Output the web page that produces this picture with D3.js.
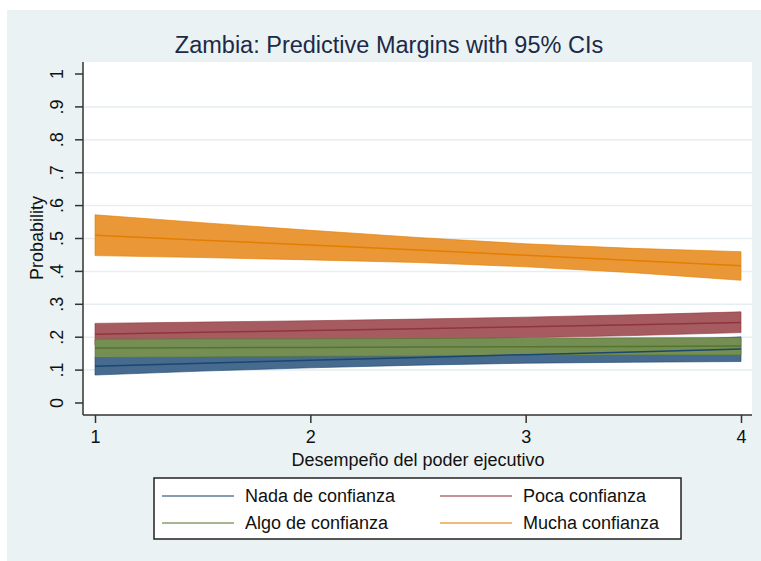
<!DOCTYPE html>
<html>
<head>
<meta charset="utf-8">
<script src="https://cdn.jsdelivr.net/npm/d3@7"></script>
<style>
body{margin:0;background:#fff}
text{font-family:"Liberation Sans",Arial,sans-serif}
</style>
</head>
<body>
<div id="graph"></div>
<script>
"use strict"
// x values of the margins
var xs=[1,1.5,2,2.5,3,3.5,4]
var xTicks=[1,2,3,4]
var yTicks=[0,.1,.2,.3,.4,.5,.6,.7,.8,.9,1]
var yTickLabels=["0",".1",".2",".3",".4",".5",".6",".7",".8",".9","1"]

// Nada de confianza
var nadaLo=[0.085,0.097,0.107,0.115,0.121,0.124,0.126]
var nadaMid=[0.112,0.121,0.130,0.138,0.147,0.155,0.164]
var nadaHi=[0.140,0.146,0.153,0.162,0.172,0.185,0.201]
// Poca confianza
var pocaLo=[0.176,0.184,0.190,0.194,0.198,0.205,0.214]
var pocaMid=[0.209,0.215,0.220,0.226,0.232,0.238,0.245]
var pocaHi=[0.242,0.246,0.250,0.255,0.261,0.268,0.277]
// Algo de confianza
var algoLo=[0.138,0.140,0.142,0.143,0.145,0.146,0.146]
var algoMid=[0.167,0.168,0.169,0.170,0.171,0.172,0.173]
var algoHi=[0.194,0.195,0.195,0.196,0.197,0.198,0.199]
// Mucha confianza
var muchaLo=[0.448,0.442,0.435,0.427,0.414,0.396,0.373]
var muchaMid=[0.510,0.495,0.480,0.465,0.449,0.433,0.417]
var muchaHi=[0.572,0.548,0.525,0.503,0.484,0.470,0.460]

var seriesNames=["Nada de confianza","Poca confianza","Algo de confianza","Mucha confianza"]
var lineColors=["#1a476f","#90353b","#55752f","#e37e00"]
var fillColors=["#476a8f","#a65b60","#748e53","#ea9737"]

var series=[
  {lo:nadaLo,mid:nadaMid,hi:nadaHi},
  {lo:pocaLo,mid:pocaMid,hi:pocaHi},
  {lo:algoLo,mid:algoMid,hi:algoHi},
  {lo:muchaLo,mid:muchaMid,hi:muchaHi}
]

var svg=d3.select('#graph').append('svg').attr('width',761).attr('height',561)
// outer graph region
svg.append('rect').attr('x',7).attr('y',10).attr('width',754).attr('height',551).attr('fill','#eaf2f3')
// plot region
svg.append('rect').attr('x',83).attr('y',62).attr('width',669).attr('height',353).attr('fill','#fff')

var x=d3.scaleLinear().domain([1,4]).range([95,741])
var y=d3.scaleLinear().domain([0,1]).range([403,74])

// grid lines
svg.append('g').selectAll('line').data(yTicks.slice(1,-1)).join('line')
  .attr('x1',84).attr('x2',752).attr('y1',d=>y(d)).attr('y2',d=>y(d))
  .attr('stroke','#e6eef1').attr('stroke-width',1.5)

var plot=svg.append('g')
// CI bands first
series.forEach(function(s,i){
  var pts=xs.map((v,k)=>({x:v,lo:s.lo[k],hi:s.hi[k]}))
  var area=d3.area().x(d=>x(d.x)).y0(d=>y(d.lo)).y1(d=>y(d.hi))
  plot.append('path').attr('d',area(pts)).attr('fill',fillColors[i])
    .attr('stroke',lineColors[i]).attr('stroke-width',1).attr('stroke-opacity',.6)
})
// margin lines on top
series.forEach(function(s,i){
  var pts=xs.map((v,k)=>({x:v,m:s.mid[k]}))
  var line=d3.line().x(d=>x(d.x)).y(d=>y(d.m))
  plot.append('path').attr('d',line(pts)).attr('fill','none')
    .attr('stroke',lineColors[i]).attr('stroke-width',1.5)
})

// y axis
var yAxis=svg.append('g').attr('transform','translate(83,0)')
  .call(d3.axisLeft(y).tickValues(yTicks).tickSize(8).tickPadding(5).tickFormat((d,i)=>yTickLabels[i]))
yAxis.select('.domain').attr('d','M0,62V415').attr('stroke','#333').attr('stroke-width',1.5)
yAxis.selectAll('.tick').attr('transform',null)
yAxis.selectAll('.tick line').attr('stroke','#333').attr('stroke-width',1.5)
  .attr('y1',d=>y(d)).attr('y2',d=>y(d))
yAxis.selectAll('.tick text').attr('font-size',18).attr('fill','#111')
  .attr('text-anchor','middle').attr('dy',0).attr('x',0).attr('y',0)
  .attr('transform',d=>'translate(-20,'+y(d)+') rotate(-90)')

// x axis
var xAxis=svg.append('g').attr('transform','translate(0,415)')
  .call(d3.axisBottom(x).tickValues(xTicks).tickSize(8).tickPadding(7).tickFormat(d3.format('d')))
xAxis.select('.domain').attr('d','M83,0H752').attr('stroke','#333').attr('stroke-width',1.5)
xAxis.selectAll('.tick line').attr('stroke','#333').attr('stroke-width',1.5)
xAxis.selectAll('.tick text').attr('font-size',18).attr('fill','#111')

// titles
svg.append('text').attr('x',389).attr('y',53).attr('text-anchor','middle')
  .attr('font-size',23.5).attr('fill','#1c2a48').text('Zambia: Predictive Margins with 95% CIs')
svg.append('text').attr('x',418).attr('y',466).attr('text-anchor','middle')
  .attr('font-size',18).attr('fill','#111').text('Desempeño del poder ejecutivo')
svg.append('text').attr('transform','translate(43,238) rotate(-90)').attr('text-anchor','middle')
  .attr('font-size',18).attr('fill','#111').text('Probability')

// legend
var lg=svg.append('g')
lg.append('rect').attr('x',154).attr('y',478).attr('width',527).attr('height',61)
  .attr('fill','#fff').attr('stroke','#222').attr('stroke-width',1.5)
var legPos=[{x:162,y:496},{x:440,y:496},{x:162,y:523},{x:440,y:523}]
seriesNames.forEach(function(n,i){
  var p=legPos[i]
  lg.append('line').attr('x1',p.x).attr('x2',p.x+72).attr('y1',p.y).attr('y2',p.y)
    .attr('stroke',lineColors[i]).attr('stroke-width',1.5).attr('stroke-opacity',.7)
  lg.append('text').attr('x',p.x+83).attr('y',p.y+6).attr('font-size',18).attr('fill','#111').text(n)
})
</script>
</body>
</html>
